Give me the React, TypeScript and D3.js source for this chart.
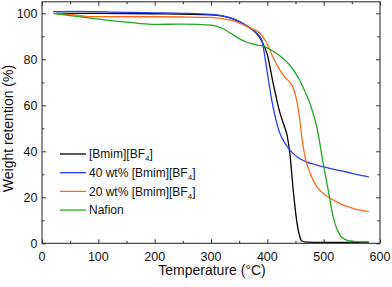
import { useEffect, useRef } from 'react';
import * as d3 from 'd3';

// [Bmim][BF4]
const tempBmim = [25, 100, 200, 300, 340, 360, 380, 390, 400, 410, 422, 430, 435, 440, 446, 452, 457, 461, 470, 500, 580];
const wBmim = [100, 100, 99.8, 99.3, 97.5, 95, 91.5, 88, 82, 70, 57, 51, 47, 39, 23, 10, 3.5, 1, 0.5, 0.4, 0.4];

// 40 wt% [Bmim][BF4]
const temp40 = [20, 60, 100, 150, 200, 250, 300, 330, 350, 365, 380, 390, 396, 402, 408, 414, 422, 430, 440, 455, 470, 485, 500, 520, 540, 560, 580];
const w40 = [100.7, 100.8, 100.7, 100.4, 100.2, 100, 99.5, 98.3, 96.5, 94.3, 91.5, 88.5, 80.5, 71, 62, 55, 48, 44, 40.5, 37.2, 35.3, 34.2, 33.2, 32, 31, 29.9, 28.9];

// 20 wt% [Bmim][BF4]
const temp20 = [25, 60, 80, 150, 200, 250, 300, 330, 350, 370, 387, 399, 410, 422, 431, 440, 446, 452, 457, 461, 467, 476, 488, 500, 511, 523, 535, 555, 580];
const w20 = [99.8, 99.2, 98.6, 98.5, 98.5, 98.4, 98.2, 97.2, 95.8, 93.5, 91.3, 87, 81, 75.4, 72.3, 70, 67.5, 62.3, 55, 46.5, 37.5, 30.5, 24.5, 21.5, 19.7, 18, 16.6, 15, 13.8];

// Nafion
const tempNafion = [20, 50, 100, 150, 200, 250, 300, 320, 335, 350, 365, 380, 395, 410, 425, 440, 455, 465, 476, 488, 499, 508, 517, 523, 529, 537, 547, 560, 580];
const wNafion = [100, 99, 97.5, 96.2, 95.2, 95.3, 94.9, 93.5, 91.3, 89, 87.3, 86.3, 85.5, 83.5, 81, 77.4, 72, 67, 60.5, 50.5, 35, 23.2, 11.4, 6.5, 3.6, 1.8, 1, 0.7, 0.6];

const xTicks = [0, 100, 200, 300, 400, 500, 600];
const yTicks = [0, 20, 40, 60, 80, 100];

const series = [
  { name: '[Bmim][BF', sub: '4', tail: ']', color: '#000000', t: tempBmim, w: wBmim },
  { name: '40 wt% [Bmim][BF', sub: '4', tail: ']', color: '#2040ff', t: temp40, w: w40 },
  { name: '20 wt% [Bmim][BF', sub: '4', tail: ']', color: '#ff6a1a', t: temp20, w: w20 },
  { name: 'Nafion', sub: '', tail: '', color: '#1faa1f', t: tempNafion, w: wNafion },
];

const W = 392;
const H = 287;
const margin = { top: 1.8, right: 12, bottom: 43.7, left: 42 };
const font = 'Liberation Sans, Arial, sans-serif';

export default function App() {
  const svgRef = useRef<SVGSVGElement>(null);

  useEffect(() => {
    if (!svgRef.current) return;
    const svg = d3.select(svgRef.current);
    svg.selectAll('*').remove();

    const iw = W - margin.left - margin.right;
    const ih = H - margin.top - margin.bottom;
    const g = svg.append('g').attr('transform', `translate(${margin.left},${margin.top})`);

    const x = d3.scaleLinear().domain([0, 600]).range([0, iw]);
    const y = d3.scaleLinear().domain([0, 105]).range([ih, 0]);

    const frame = '#333';

    // inward ticks on all four sides (major + minor)
    const addTicks = (axis: d3.Axis<d3.NumberValue>, transform: string, vals: number[], size: number) => {
      const a = g
        .append('g')
        .attr('transform', transform)
        .call(axis.tickValues(vals).tickSize(size).tickFormat(() => '').tickSizeOuter(0));
      a.select('.domain').remove();
      a.selectAll('line').attr('stroke', frame);
    };
    const xMinor = d3.range(50, 600, 100);
    const yMinor = d3.range(10, 105, 20);
    addTicks(d3.axisTop(x), `translate(0,${ih})`, xTicks, 4);
    addTicks(d3.axisTop(x), `translate(0,${ih})`, xMinor, 2.5);
    addTicks(d3.axisBottom(x), 'translate(0,0)', xTicks, 4);
    addTicks(d3.axisBottom(x), 'translate(0,0)', xMinor, 2.5);
    addTicks(d3.axisRight(y), 'translate(0,0)', yTicks, 4);
    addTicks(d3.axisRight(y), 'translate(0,0)', yMinor, 2.5);
    addTicks(d3.axisLeft(y), `translate(${iw},0)`, yTicks, 4);
    addTicks(d3.axisLeft(y), `translate(${iw},0)`, yMinor, 2.5);

    // lines
    series.forEach((s) => {
      const pts = s.t.map((t, i) => [t, s.w[i]] as [number, number]);
      const line = d3
        .line<[number, number]>()
        .x((d) => x(d[0]))
        .y((d) => y(d[1]))
        .curve(d3.curveMonotoneX);
      g.append('path')
        .datum(pts)
        .attr('fill', 'none')
        .attr('stroke', s.color)
        .attr('stroke-width', 1.3)
        .attr('d', line);
    });

    // frame
    g.append('rect')
      .attr('width', iw)
      .attr('height', ih)
      .attr('fill', 'none')
      .attr('stroke', frame)
      .attr('stroke-width', 1.1);

    // tick labels
    g.selectAll('.xl')
      .data(xTicks)
      .join('text')
      .attr('x', (d) => x(d))
      .attr('y', ih + 17.4)
      .attr('text-anchor', 'middle')
      .attr('font-size', 12.5)
      .attr('font-family', font)
      .attr('fill', '#111')
      .text((d) => d);
    g.selectAll('.yl')
      .data(yTicks)
      .join('text')
      .attr('x', -4.5)
      .attr('y', (d) => y(d) + 4.4)
      .attr('text-anchor', 'end')
      .attr('font-size', 12.5)
      .attr('font-family', font)
      .attr('fill', '#111')
      .text((d) => d);

    // axis titles
    g.append('text')
      .attr('x', iw / 2 + 1)
      .attr('y', ih + 32)
      .attr('text-anchor', 'middle')
      .attr('font-size', 14)
      .attr('font-family', font)
      .attr('fill', '#111')
      .text('Temperature (°C)');
    g.append('text')
      .attr('transform', `translate(${-29},${ih / 2 + 6}) rotate(-90)`)
      .attr('text-anchor', 'middle')
      .attr('font-size', 14)
      .attr('font-family', font)
      .attr('fill', '#111')
      .text('Weight retention (%)');

    // legend
    const leg = svg.append('g').attr('transform', 'translate(60,154)');
    series.forEach((s, i) => {
      const row = leg.append('g').attr('transform', `translate(0,${i * 18.7})`);
      row.append('line').attr('x1', 0).attr('x2', 26).attr('y1', 0).attr('y2', 0).attr('stroke', s.color).attr('stroke-width', 1.3);
      const t = row
        .append('text')
        .attr('x', 29)
        .attr('y', 4.3)
        .attr('font-size', 12)
        .attr('font-family', font)
        .attr('fill', '#111');
      t.append('tspan').text(s.name);
      if (s.sub) {
        t.append('tspan').attr('font-size', 8).attr('dy', 3).text(s.sub);
        t.append('tspan').attr('dy', -3).text(s.tail);
      }
    });
  }, []);

  return (
    <svg
      ref={svgRef}
      width={W}
      height={H}
      style={{ position: 'absolute', left: 0, top: 0, background: '#fff' }}
    />
  );
}
